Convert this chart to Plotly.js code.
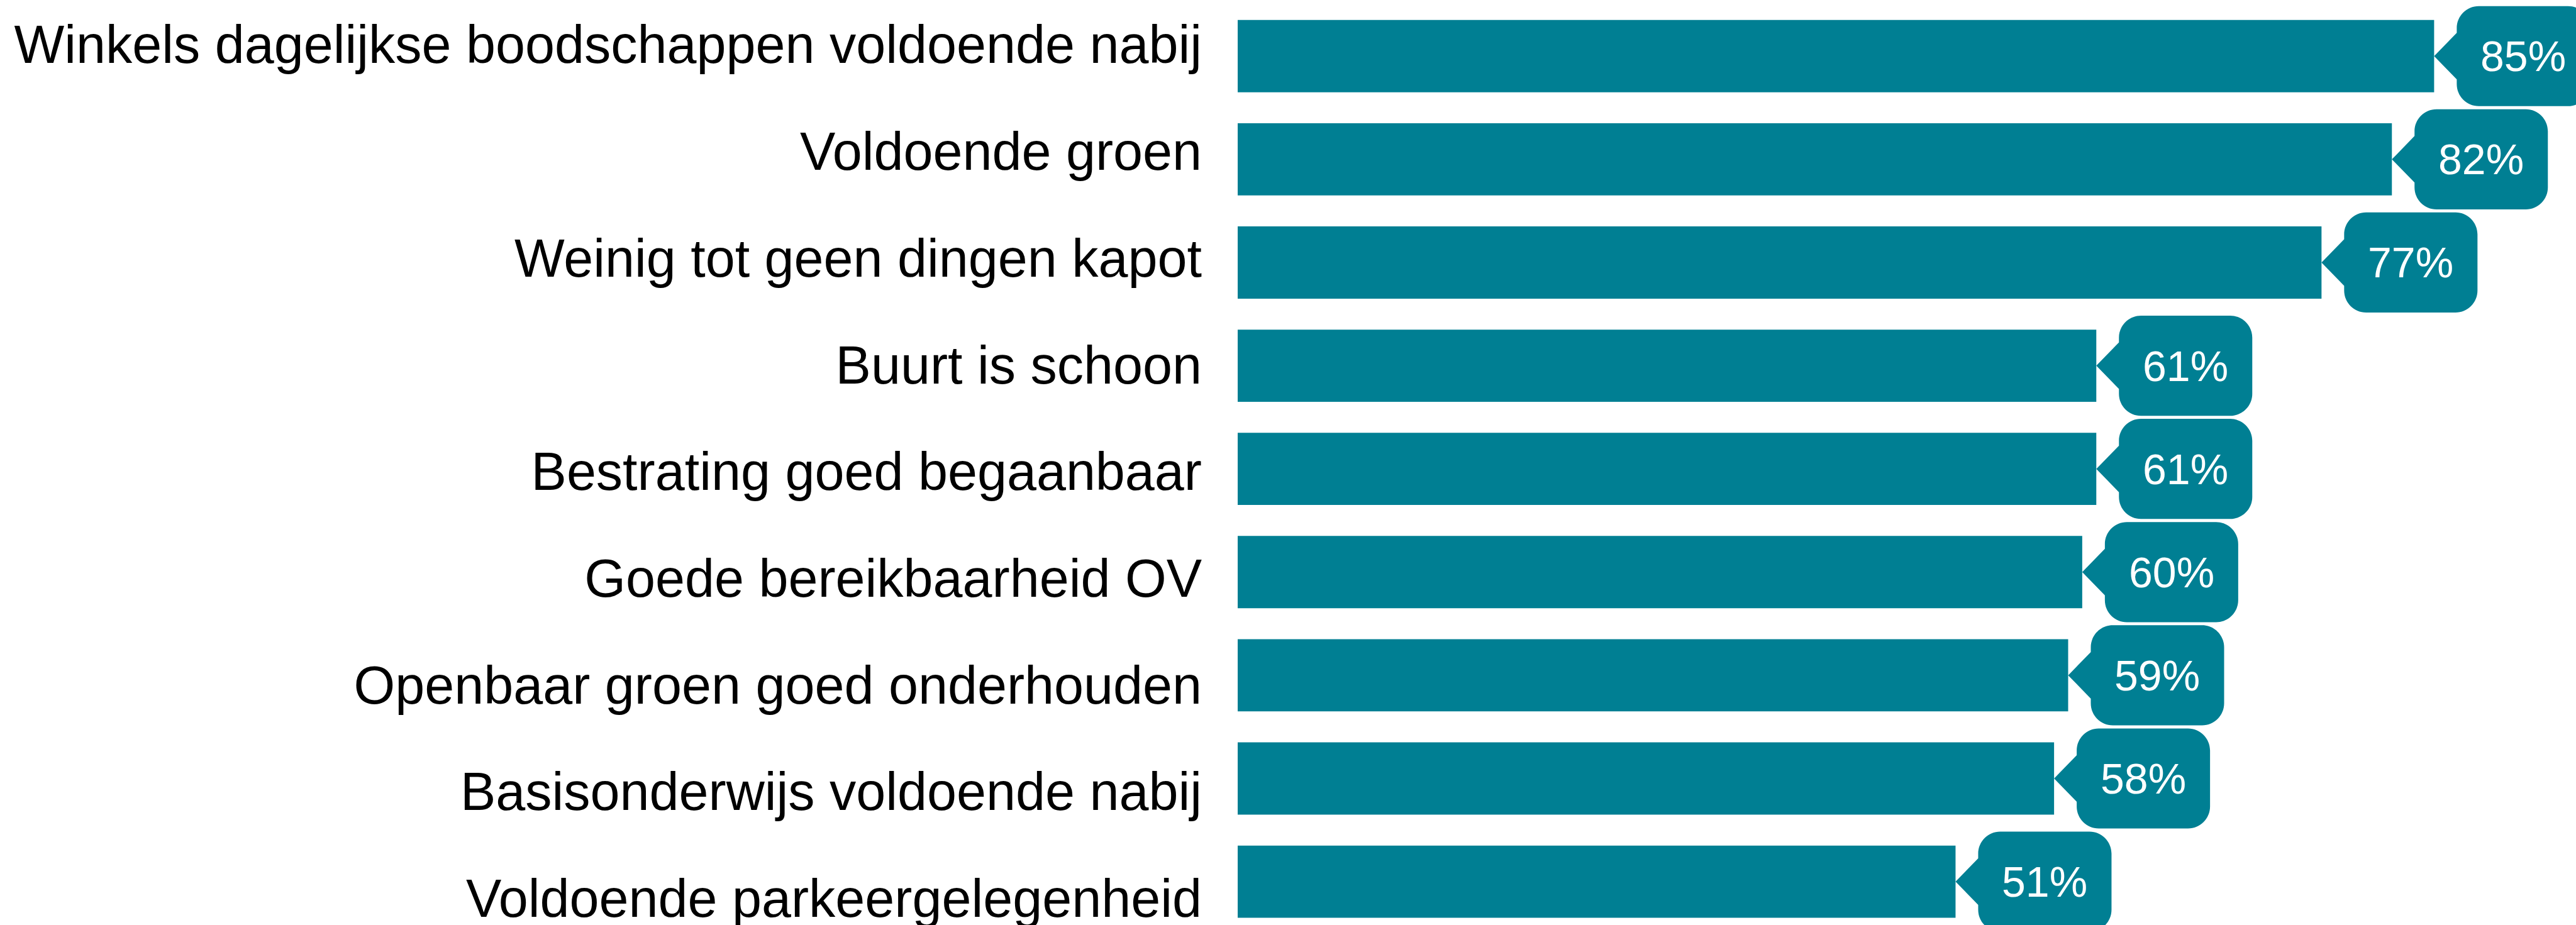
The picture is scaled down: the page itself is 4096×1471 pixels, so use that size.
<!DOCTYPE html>
<html>
<head>
<meta charset="utf-8">
<script src="https://cdn.plot.ly/plotly-3.0.1.min.js"></script>
<style>
  html, body { margin: 0; padding: 0; background: #ffffff; }
  #chart { width: 4096px; height: 1471px; }
</style>
</head>
<body>
<div id="chart"></div>
<script>
// ---- data ----
var categories = [
  "Winkels dagelijkse boodschappen voldoende nabij",
  "Voldoende groen",
  "Weinig tot geen dingen kapot",
  "Buurt is schoon",
  "Bestrating goed begaanbaar",
  "Goede bereikbaarheid OV",
  "Openbaar groen goed onderhouden",
  "Basisonderwijs voldoende nabij",
  "Voldoende parkeergelegenheid"
];
var values = [85, 82, 77, 61, 61, 60, 59, 58, 51];
var valueLabels = ["85%", "82%", "77%", "61%", "61%", "60%", "59%", "58%", "51%"];

// ---- styling ----
var TEAL = "rgb(0,127,147)";
var FONT = "Liberation Sans, Arial, Helvetica, sans-serif";

// callout geometry (pixels, y up, relative to bar end / bar centre)
var tipW = 36, tipH = 37, boxW = 212, halfH = 79.6, r = 35, k = 0.552 * r;
var L = tipW, R = tipW + boxW;
var calloutPath =
  "M 0 0 L " + L + " " + tipH +
  " L " + L + " " + (halfH - r) +
  " C " + L + " " + (halfH - r + k) + " " + (L + r - k) + " " + halfH + " " + (L + r) + " " + halfH +
  " L " + (R - r) + " " + halfH +
  " C " + (R - r + k) + " " + halfH + " " + R + " " + (halfH - r + k) + " " + R + " " + (halfH - r) +
  " L " + R + " " + (-halfH + r) +
  " C " + R + " " + (-halfH + r - k) + " " + (R - r + k) + " " + (-halfH) + " " + (R - r) + " " + (-halfH) +
  " L " + (L + r) + " " + (-halfH) +
  " C " + (L + r - k) + " " + (-halfH) + " " + L + " " + (-halfH + r - k) + " " + L + " " + (-halfH + r) +
  " L " + L + " " + (-tipH) + " Z";

var shapes = [];
var annotations = [];
for (var i = 0; i < categories.length; i++) {
  shapes.push({
    type: "path",
    xref: "x", yref: "y",
    xsizemode: "pixel", ysizemode: "pixel",
    xanchor: values[i], yanchor: categories[i],
    path: calloutPath,
    fillcolor: TEAL,
    line: { width: 0 },
    layer: "above"
  });
  annotations.push({
    x: values[i], y: categories[i],
    xref: "x", yref: "y",
    xshift: L + boxW / 2,
    text: valueLabels[i],
    showarrow: false,
    font: { family: FONT, size: 68, color: "#ffffff" },
    xanchor: "center", yanchor: "middle"
  });
}

var traces = [
  {
    type: "bar",
    orientation: "h",
    x: values,
    y: categories,
    marker: { color: TEAL, line: { width: 0 } },
    width: 0.70,
    hoverinfo: "skip",
    showlegend: false,
    xaxis: "x", yaxis: "y"
  },
  {
    type: "scatter",
    mode: "markers",
    x: values,
    y: categories,
    marker: { opacity: 0, size: 1 },
    hoverinfo: "skip",
    showlegend: false,
    xaxis: "x", yaxis: "y2"
  }
];

var layout = {
  width: 4096,
  height: 1471,
  margin: { l: 1968, r: 0, t: 0, b: 0, pad: 0 },
  paper_bgcolor: "#ffffff",
  plot_bgcolor: "#ffffff",
  font: { family: FONT, color: "#000000" },
  showlegend: false,
  xaxis: {
    range: [0, 95.08],
    visible: false,
    showgrid: false,
    zeroline: false,
    fixedrange: true
  },
  yaxis: {
    type: "category",
    categoryorder: "array",
    categoryarray: categories,
    range: [8.420, -0.544],
    showticklabels: false,
    showgrid: false,
    zeroline: false,
    showline: false,
    ticks: "",
    fixedrange: true
  },
  yaxis2: {
    type: "category",
    categoryorder: "array",
    categoryarray: categories,
    overlaying: "y",
    side: "left",
    anchor: "x",
    range: [8.251, -0.4175],
    showgrid: false,
    zeroline: false,
    showline: false,
    ticks: "",
    ticklabelstandoff: 56,
    tickfont: { family: FONT, size: 84.5, color: "#000000" },
    fixedrange: true
  },
  shapes: shapes,
  annotations: annotations
};

Plotly.newPlot("chart", traces, layout, { displayModeBar: false, staticPlot: true });
</script>
</body>
</html>
